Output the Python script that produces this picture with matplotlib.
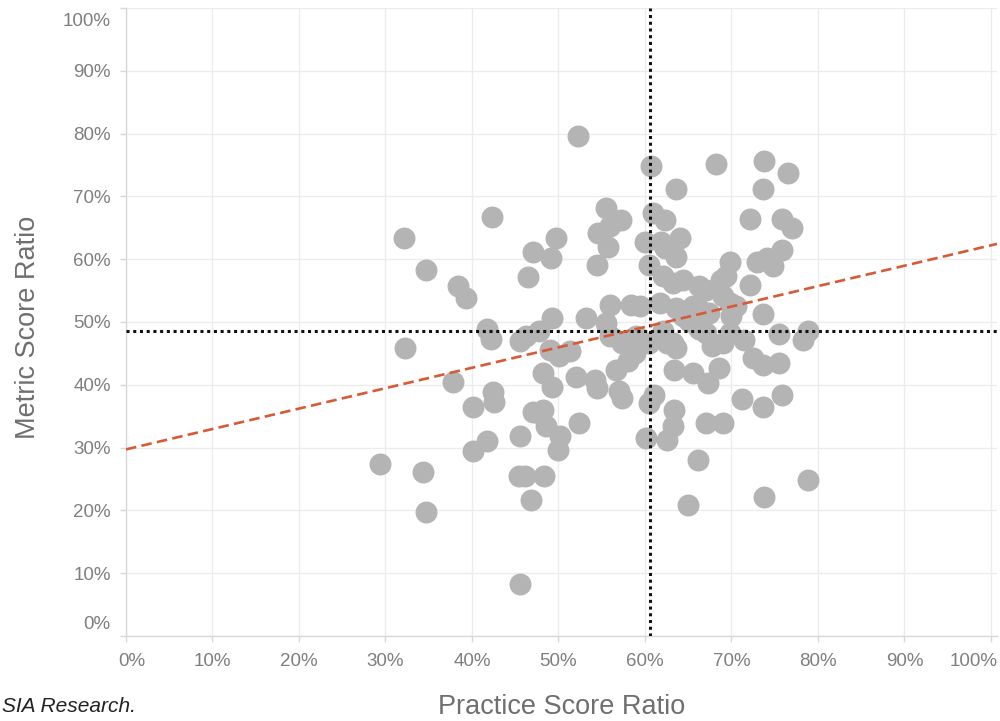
import matplotlib
matplotlib.use("Agg")
import matplotlib.pyplot as plt
import matplotlib.transforms as mtransforms
from matplotlib.ticker import FuncFormatter

plt.rcParams['font.family'] = ['Liberation Sans', 'DejaVu Sans']

# practice score ratio (%) vs metric score ratio (%), one entry per organisation
practice_ratio = [
    29.4, 32.1, 32.3, 34.3, 34.7, 34.7,
    37.8, 38.4, 39.3, 40.1, 40.1, 41.7, 41.7, 42.2, 42.3, 42.4, 42.6,
    45.5, 45.6, 45.4, 46.1, 45.6, 46.3, 46.5, 46.8, 47.1, 47.0, 47.8, 48.2,
    47.8, 48.3, 48.6, 48.2, 49.0, 49.2, 49.3, 49.1, 49.7, 49.9,
    50.1, 50.2, 51.3, 52.0, 52.3, 52.4, 53.2, 54.2, 54.4, 54.6, 54.5, 55.5,
    55.5, 55.7, 55.9, 56.0, 56.0, 56.7,
    57.2, 57.4, 57.4, 57.0, 58.0, 58.4, 58.8, 59.0, 59.4, 60.0, 60.1, 60.5, 60.5,
    60.7, 60.9, 60.5, 61.1, 61.7, 61.9, 62.3, 62.3, 62.1, 62.1, 62.5, 62.5,
    63.2, 63.2, 63.2, 63.4, 63.4, 63.6, 63.6, 63.6, 63.6, 64.0, 64.4, 64.4,
    65.1, 65.0, 65.5, 65.5,
    66.1, 66.3, 66.3, 66.3, 67.1, 67.1, 67.1, 67.3, 67.4, 67.8, 68.2, 68.6,
    68.8, 69.0, 69.0, 69.0, 69.4, 69.8, 69.8, 69.8, 70.0,
    70.5, 71.2, 71.4, 72.1, 72.2, 72.5, 72.9, 73.6, 73.6, 73.6, 73.7, 73.8,
    73.8, 74.1, 74.8, 75.5, 75.5, 75.9, 75.9, 75.9, 76.5, 77.0, 78.3, 78.8, 78.9,
]
metric_ratio = [
    27.4, 63.4, 45.9, 26.1, 19.8, 58.3,
    40.4, 55.8, 53.8, 29.4, 36.5, 31.1, 48.9, 47.3, 66.7, 38.9, 37.3,
    46.9, 31.9, 25.4, 25.4, 8.3, 47.7, 57.1, 21.6, 61.1, 35.7, 35.5, 41.8,
    48.5, 25.4, 33.4, 36.0, 45.6, 39.7, 50.6, 60.2, 63.4, 29.6,
    44.5, 31.8, 45.3, 41.3, 79.6, 33.9, 50.6, 40.8, 39.4, 64.2, 59.1, 68.2,
    49.8, 62.0, 65.3, 52.7, 47.7, 42.4,
    66.3, 46.6, 37.9, 39.0, 43.7, 52.7, 45.1, 47.7, 52.5, 62.8, 31.5, 37.1, 46.6,
    74.9, 67.4, 59.0, 38.4, 53.0, 62.8, 66.2, 61.8, 57.3, 48.5, 46.6, 31.2,
    56.2, 46.6, 33.4, 36.0, 42.4, 71.2, 60.4, 52.2, 45.8, 63.4, 50.9, 56.7,
    50.1, 20.9, 41.9, 52.5,
    28.0, 55.7, 52.0, 48.8, 55.1, 48.2, 33.9, 40.3, 51.4, 46.1, 75.1, 42.7,
    56.7, 54.1, 33.9, 46.6, 57.3, 59.6, 53.0, 48.2, 50.9,
    52.5, 37.8, 47.2, 55.9, 66.4, 44.3, 59.6, 43.2, 51.2, 36.5, 71.1, 75.6,
    22.2, 60.2, 58.9, 43.5, 48.0, 38.4, 66.4, 61.5, 73.7, 65.0, 47.2, 48.5, 24.9,
]

# reference lines: averages and linear trend
avg_practice = 60.6
avg_metric = 48.6
trend_intercept = 29.7
trend_slope = 0.325

fig = plt.figure(figsize=(10, 7.21), dpi=100)
ax = fig.add_axes([0.126, 0.118, 0.871, 0.871])

ax.scatter(practice_ratio, metric_ratio, s=250, color='#b4b4b4',
           linewidths=0, zorder=2)

ax.axvline(avg_practice, color='#111111', linestyle=(0, (1, 1.2)), lw=2.2, zorder=3)
ax.axhline(avg_metric, color='#111111', linestyle=(0, (1, 1.2)), lw=2.2, zorder=3)

x_end = 100.7
ax.plot([0, x_end], [trend_intercept, trend_intercept + trend_slope * x_end],
        color='#d75a35', linestyle=(0, (4, 2)), lw=1.9, zorder=4)

ax.set_xlim(0, x_end)
ax.set_ylim(0, 100)
ticks = list(range(0, 101, 10))
ax.set_xticks(ticks)
ax.set_yticks(ticks)
pct = FuncFormatter(lambda v, _: f"{v:.0f}%")
ax.xaxis.set_major_formatter(pct)
ax.yaxis.set_major_formatter(pct)

ax.grid(True, color='#ececec', lw=1, zorder=0)
ax.set_axisbelow(True)
for side in ['top', 'right']:
    ax.spines[side].set_visible(False)
for side in ['left', 'bottom']:
    ax.spines[side].set_color('#d8d8d8')
    ax.spines[side].set_linewidth(1)

ax.tick_params(axis='both', colors='#d8d8d8', length=4, width=1,
               labelcolor='#7f7f7f', labelsize=13.5)
ax.tick_params(axis='x', pad=8)
ax.tick_params(axis='y', pad=7)

# keep the end labels inside the frame
def nudge(label, dx, dy):
    label.set_transform(label.get_transform() +
                        mtransforms.ScaledTranslation(dx / 100, dy / 100, fig.dpi_scale_trans))

xl = ax.get_xticklabels()
nudge(xl[0], 6, 0)
nudge(xl[-1], -17, 0)
yl = ax.get_yticklabels()
nudge(yl[0], 0, 13)
nudge(yl[-1], 0, -12)

fig.text(0.028, 1 - 327 / 721, 'Metric Score Ratio', rotation=90, ha='center',
         va='center', fontsize=19.5, color='#6f6f6f')
fig.text(0.562, 1 - 707 / 721, 'Practice Score Ratio', ha='center', va='center',
         fontsize=19.5, color='#6f6f6f')
fig.text(0.136, 1 - 707 / 721, 'SIA Research.', ha='right', va='center',
         fontsize=15, style='italic', color='#222222')

fig.savefig('out.png', dpi=100)
